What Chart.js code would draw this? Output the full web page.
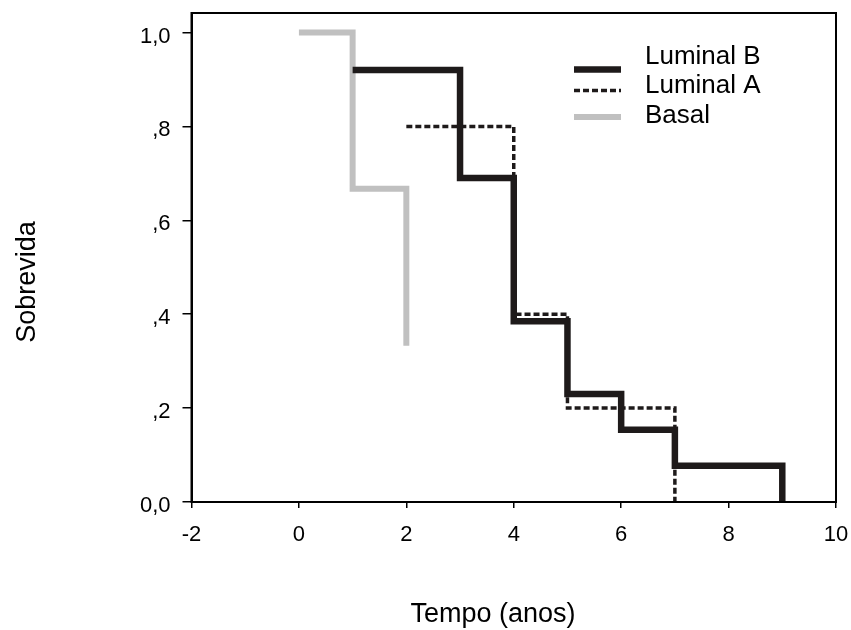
<!DOCTYPE html>
<html>
<head>
<meta charset="utf-8">
<script src="https://cdn.jsdelivr.net/npm/chart.js@4/dist/chart.umd.min.js"></script>
<style>
html,body{margin:0;padding:0;background:#fff;}
#wrap{width:851px;height:630px;position:relative;}
</style>
</head>
<body>
<div id="wrap"><canvas id="c" width="851" height="630"></canvas></div>
<script>
// ---- data ----
const seriesNames = ["Luminal B", "Luminal A", "Basal"];
const lumBTime = [1, 3, 4, 5, 6, 7, 9];
const lumBSurv = [0.92, 0.69, 0.385, 0.23, 0.154, 0.077, 0.0];
const lumATime = [2, 4, 5, 7];
const lumASurv = [0.8, 0.4, 0.2, 0.0];
const basalTime = [0, 1, 2];
const basalSurv = [1.0, 0.667, 0.333];
const xTicks = [-2, 0, 2, 4, 6, 8, 10];
const yTicks = [0, 0.2, 0.4, 0.6, 0.8, 1.0];
const yTickLabels = ["0,0", ",2", ",4", ",6", ",8", "1,0"];
const xTitle = "Tempo (anos)";
const yTitle = "Sobrevida";

const pts = (t, s) => t.map((v, i) => ({x: v, y: s[i]}));
const FONT = "'Liberation Sans', Arial, sans-serif";

const framePlugin = {
  id: 'frame',
  afterDraw(chart) {
    const {ctx, chartArea: a} = chart;
    ctx.save();
    ctx.strokeStyle = '#000';
    ctx.lineWidth = 2;
    ctx.strokeRect(a.left, a.top, a.right - a.left, a.bottom - a.top);
    // axis titles
    ctx.fillStyle = '#000';
    ctx.font = "27px " + FONT;
    ctx.textAlign = 'center';
    ctx.textBaseline = 'alphabetic';
    ctx.fillText(xTitle, 493, 622);
    ctx.translate(35, 282);
    ctx.rotate(-Math.PI / 2);
    ctx.fillText(yTitle, 0, 0);
    ctx.restore();
    // legend
    const items = chart.data.datasets;
    const sampleY = [69.5, 90.5, 117];
    const textY = [63.5, 93, 123];
    ctx.save();
    ctx.font = "26px " + FONT;
    ctx.textAlign = 'left';
    ctx.textBaseline = 'alphabetic';
    items.forEach((ds, i) => {
      ctx.strokeStyle = ds.borderColor;
      ctx.lineWidth = ds.borderWidth;
      ctx.setLineDash(ds.borderDash || []);
      ctx.lineCap = 'butt';
      ctx.beginPath();
      ctx.moveTo(574, sampleY[i]);
      ctx.lineTo(621, sampleY[i]);
      ctx.stroke();
      ctx.setLineDash([]);
      ctx.fillStyle = '#000';
      ctx.fillText(ds.label, 645, textY[i]);
    });
    ctx.restore();
  }
};

new Chart(document.getElementById('c'), {
  type: 'line',
  data: {
    datasets: [
      {label: seriesNames[0], data: pts(lumBTime, lumBSurv), borderColor: '#1e1a1a', borderWidth: 6.5, stepped: 'before', pointRadius: 0, fill: false, borderCapStyle: 'butt', borderJoinStyle: 'miter'},
      {label: seriesNames[1], data: pts(lumATime, lumASurv), borderColor: '#1e1a1a', borderWidth: 3.5, borderDash: [6, 3], stepped: 'before', pointRadius: 0, fill: false, borderCapStyle: 'butt', borderJoinStyle: 'miter'},
      {label: seriesNames[2], data: pts(basalTime, basalSurv), borderColor: '#c0c0c0', borderWidth: 6, stepped: 'before', pointRadius: 0, fill: false, borderCapStyle: 'butt', borderJoinStyle: 'miter'}
    ]
  },
  options: {
    responsive: false,
    animation: false,
    events: [],
    layout: {padding: {left: 0, right: 15, top: 13, bottom: 0}},
    plugins: {legend: {display: false}, tooltip: {enabled: false}},
    scales: {
      x: {
        type: 'linear', min: -2, max: 10,
        afterBuildTicks: s => { s.ticks = xTicks.map(v => ({value: v})); },
        afterFit: s => { s.height = 128; s.paddingLeft = 0; s.paddingRight = 0; },
        grid: {display: true, drawOnChartArea: false, drawTicks: true, tickLength: 6, color: '#000', lineWidth: 1.5},
        border: {display: true, color: '#000', width: 2},
        ticks: {color: '#000', padding: 14, font: {family: FONT, size: 22}, maxRotation: 0, callback: v => String(v)}
      },
      y: {
        type: 'linear', min: 0, max: 1.0415,
        afterBuildTicks: s => { s.ticks = yTicks.map(v => ({value: v})); },
        afterFit: s => { s.width = 191.5; s.paddingTop = 0; s.paddingBottom = 0; },
        grid: {display: true, drawOnChartArea: false, drawTicks: true, tickLength: 9, color: '#000', lineWidth: 1.5},
        border: {display: true, color: '#000', width: 2},
        ticks: {color: '#000', padding: 12, labelOffset: 4, font: {family: FONT, size: 22},
          callback: (v) => { const i = yTicks.findIndex(t => Math.abs(t - v) < 1e-6); return i >= 0 ? yTickLabels[i] : ''; }}
      }
    }
  },
  plugins: [framePlugin]
});
</script>
</body>
</html>
